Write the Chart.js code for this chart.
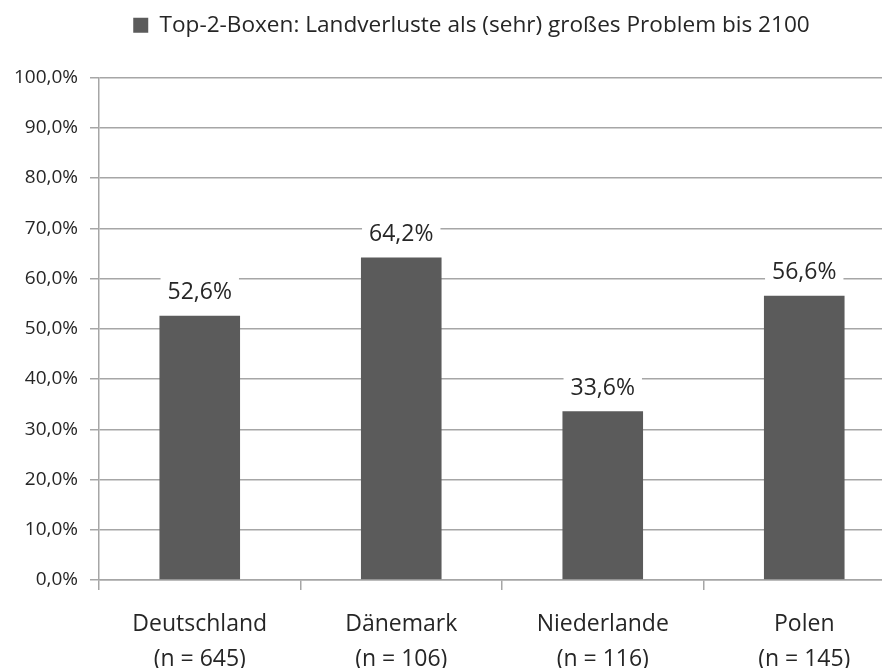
<!DOCTYPE html>
<html>
<head>
<meta charset="utf-8">
<script src="https://cdn.jsdelivr.net/npm/chart.js@4.4.0/dist/chart.umd.min.js"></script>
<style>
    html, body { margin: 0; padding: 0; background: #fff; overflow: hidden; }
    #wrap { width: 905px; height: 668px; }
</style>
</head>
<body>
<div id="wrap"><canvas id="chart"></canvas></div>
<script>
var countries = ["Deutschland", "Dänemark", "Niederlande", "Polen"];
var sampleSizes = [645, 106, 116, 145];
var shares = [52.6, 64.2, 33.6, 56.6];
var seriesName = "Top-2-Boxen: Landverluste als (sehr) großes Problem bis 2100";

var barColor = "#5b5b5b";
var gridColor = "#a6a6a6";
var textColor = "#262626";
var fontName = "'Open Sans', sans-serif";

function pct(v) {
    return v.toFixed(1).replace(".", ",") + "%";
}

var labels = countries.map(function(c, i) {
    return [c, "(n = " + sampleSizes[i] + ")"];
});

// value labels on white boxes above the bars
var valueLabels = {
    id: "valueLabels",
    afterDatasetsDraw: function(chart) {
        var ctx = chart.ctx;
        var meta = chart.getDatasetMeta(0);
        ctx.save();
        ctx.font = "23px " + fontName;
        ctx.textAlign = "center";
        ctx.textBaseline = "middle";
        meta.data.forEach(function(bar, i) {
            var txt = pct(shares[i]);
            var w = ctx.measureText(txt).width + 14;
            var y = bar.y - 23;
            ctx.fillStyle = "#fff";
            ctx.fillRect(bar.x - w / 2, y - 15, w, 30);
            ctx.fillStyle = textColor;
            ctx.fillText(txt, bar.x, y);
        });
        ctx.restore();
    }
};

// extra space under the legend, and nudge it a bit to the right
var legendSpacer = {
    id: "legendSpacer",
    beforeLayout: function(chart) {
        var lg = chart.legend;
        if (lg && !lg._spaced) {
            var fit = lg.fit;
            lg.fit = function() {
                fit.call(this);
                this.height += 31;
            };
            lg._spaced = true;
        }
    },
    afterLayout: function(chart) {
        if (chart.legend) {
            chart.legend.left += 19;
            chart.legend.right += 19;
        }
    }
};

var ctx = document.getElementById("chart").getContext("2d");
var myChart = new Chart(ctx, {
    type: "bar",
    data: {
        labels: labels,
        datasets: [{
            label: seriesName,
            data: shares,
            backgroundColor: barColor,
            borderWidth: 0,
            categoryPercentage: 1.0,
            barPercentage: 0.4
        }]
    },
    options: {
        responsive: true,
        maintainAspectRatio: false,
        animation: false,
        layout: { padding: { top: 0, right: 0, bottom: 0, left: 0 } },
        plugins: {
            legend: {
                position: "top",
                labels: {
                    color: textColor,
                    font: { family: fontName, size: 22.6 },
                    boxWidth: 15,
                    boxHeight: 15,
                    padding: 14
                }
            },
            tooltip: { enabled: false }
        },
        scales: {
            x: {
                grid: {
                    display: true,
                    drawOnChartArea: false,
                    color: gridColor,
                    lineWidth: 1.5,
                    tickLength: 10
                },
                border: { color: gridColor, width: 1.5 },
                ticks: {
                    color: textColor,
                    font: { family: fontName, size: 23, lineHeight: 1.52 },
                    padding: 17,
                    maxRotation: 0
                },
                afterFit: function(scale) { scale.height = 88; }
            },
            y: {
                min: 0,
                max: 100,
                ticks: {
                    stepSize: 10,
                    color: textColor,
                    font: { family: fontName, size: 19 },
                    padding: 12,
                    callback: function(v) { return pct(v); }
                },
                grid: {
                    color: gridColor,
                    lineWidth: 1.5,
                    tickLength: 9
                },
                border: { color: gridColor, width: 1.5 },
                afterFit: function(scale) { scale.width = 99; }
            }
        }
    },
    plugins: [valueLabels, legendSpacer]
});
</script>
</body>
</html>
